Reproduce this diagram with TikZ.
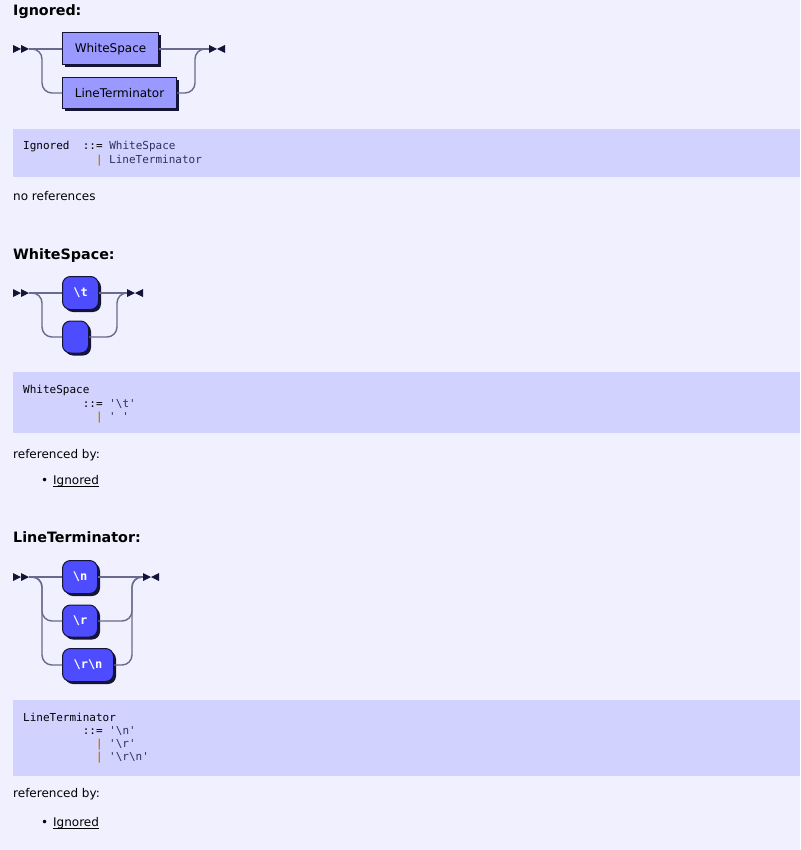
\documentclass[tikz,border=0pt]{standalone}
\usepackage{fontspec}
\setmainfont{DejaVu Sans}
\setmonofont{DejaVu Sans Mono}
\usetikzlibrary{shadows}
\definecolor{pagebg}{HTML}{F1F0FE}
\definecolor{codebg}{HTML}{D2D2FF}
\definecolor{ntfill}{HTML}{9999FF}
\definecolor{tfill}{HTML}{4D4DFF}
\definecolor{darkc}{HTML}{141438}
\definecolor{linec}{HTML}{6A6A8C}
\definecolor{barc}{HTML}{C07800}
\definecolor{refc}{HTML}{303060}
\tikzset{
  nonterm/.style={draw=darkc, line width=1pt, fill=ntfill, anchor=west, inner sep=0pt,
    font=\fontsize{12}{14}\selectfont, text=black,
    general shadow={fill=darkc, shadow xshift=2.5pt, shadow yshift=-2.5pt}},
  term/.style={draw=darkc, line width=1pt, fill=tfill, anchor=west, inner sep=0pt, rounded corners=8pt,
    font=\ttfamily\bfseries\fontsize{12}{14}\selectfont, text=white,
    general shadow={fill=darkc, shadow xshift=2.5pt, shadow yshift=-2.5pt, rounded corners=8pt}},
  conn/.style={draw=linec, line width=1.4pt},
  tip/.style={fill=darkc},
  heading/.style={anchor=base west, inner sep=0pt, font=\bfseries\fontsize{14.3}{16}\selectfont, text=black},
  body/.style={anchor=base west, inner sep=0pt, font=\fontsize{12}{14}\selectfont, text=black},
  code/.style={anchor=base west, inner sep=0pt, font=\ttfamily\fontsize{11}{13}\selectfont, text=black},
  codebox/.style={fill=codebg, draw=none},
}
\newcommand{\bsl}{\textbackslash}
\newcommand{\vb}{\textcolor{barc}{\textbf{|}}}
\newcommand{\rc}[1]{\textcolor{refc}{#1}}
\begin{document}
\begin{tikzpicture}[x=1pt,y=-1pt]
\useasboundingbox (0,0) rectangle (800,850);
\fill[pagebg] (0,0) rectangle (800,850);

% ===== Ignored =====
\node[heading] (h1) at (13,16) {Ignored:};
\coordinate (s1) at (29,49);
\fill[tip] (13,45) -- (21,49) -- (13,53) -- cycle;
\fill[tip] (21,45) -- (29,49) -- (21,53) -- cycle;
\node[nonterm, minimum width=96, minimum height=32] (ws) at (62,49) {WhiteSpace};
\node[nonterm, minimum width=114, minimum height=31] (lt) at (62,93) {LineTerminator};
\coordinate (e1) at (209,49);
\draw[conn] (s1) -- (ws.west);
\draw[conn, rounded corners=10pt] (s1) -| (42,93) -- (lt.west);
\draw[conn] (ws.east) -- (e1);
\draw[conn, rounded corners=10pt] (lt.east) -| (195,49) -- (e1);
\fill[tip] (209,45) -- (217,49) -- (209,53) -- cycle;
\fill[tip] (225,45) -- (217,49) -- (225,53) -- cycle;

\fill[codebox] (13,129) rectangle (800,177);
\node[code] (c11) at (23,150) {Ignored~~::=~\rc{WhiteSpace}};
\node[code] (c12) at (95.8,164) {\vb~\rc{LineTerminator}};
\node[body] (nr) at (13,201) {no references};

% ===== WhiteSpace =====
\node[heading] (h2) at (13,259) {WhiteSpace:};
\coordinate (s2) at (29,293);
\fill[tip] (13,289) -- (21,293) -- (13,297) -- cycle;
\fill[tip] (21,289) -- (29,293) -- (21,297) -- cycle;
\node[term, minimum width=36, minimum height=33] (tab) at (62,293) {\bsl t};
\node[term, minimum width=26, minimum height=32] (sp) at (62,337) {};
\coordinate (e2) at (127,293);
\draw[conn] (s2) -- (tab.west);
\draw[conn, rounded corners=10pt] (s2) -| (42,337) -- (sp.west);
\draw[conn] (tab.east) -- (e2);
\draw[conn, rounded corners=10pt] (sp.east) -| (117,293) -- (e2);
\fill[tip] (127,289) -- (135,293) -- (127,297) -- cycle;
\fill[tip] (143,289) -- (135,293) -- (143,297) -- cycle;

\fill[codebox] (13,372) rectangle (800,433);
\node[code] (c21) at (23,393) {WhiteSpace};
\node[code] (c22) at (82.6,407) {::=~\rc{'\bsl t'}};
\node[code] (c23) at (95.8,420) {\vb~\rc{'~'}};
\node[body] (rb1) at (13,458) {referenced by:};
\node[body] (bu1) at (41,484) {•};
\node[body] (ig1) at (53,484) {Ignored};
\draw[black, line width=0.8pt] ([yshift=-2pt]ig1.base west) -- ([yshift=-2pt]ig1.base east);

% ===== LineTerminator =====
\node[heading] (h3) at (13,542) {LineTerminator:};
\coordinate (s3) at (29,577);
\fill[tip] (13,573) -- (21,577) -- (13,581) -- cycle;
\fill[tip] (21,573) -- (29,577) -- (21,581) -- cycle;
\node[term, minimum width=35, minimum height=33] (nl) at (62,577) {\bsl n};
\node[term, minimum width=35, minimum height=32] (cr) at (62,621) {\bsl r};
\node[term, minimum width=51, minimum height=33] (crnl) at (62,665) {\bsl r\bsl n};
\coordinate (e3) at (143,577);
\draw[conn] (s3) -- (nl.west);
\draw[conn, rounded corners=10pt] (s3) -| (42,621) -- (cr.west);
\draw[conn, rounded corners=10pt] (s3) -| (42,665) -- (crnl.west);
\draw[conn] (nl.east) -- (e3);
\draw[conn, rounded corners=10pt] (cr.east) -| (132,577) -- (e3);
\draw[conn, rounded corners=10pt] (crnl.east) -| (132,577) -- (e3);
\fill[tip] (143,573) -- (151,577) -- (143,581) -- cycle;
\fill[tip] (159,573) -- (151,577) -- (159,581) -- cycle;

\fill[codebox] (13,700) rectangle (800,776);
\node[code] (c31) at (23,721) {LineTerminator};
\node[code] (c32) at (82.6,734) {::=~\rc{'\bsl n'}};
\node[code] (c33) at (95.8,747) {\vb~\rc{'\bsl r'}};
\node[code] (c34) at (95.8,760) {\vb~\rc{'\bsl r\bsl n'}};
\node[body] (rb2) at (13,797) {referenced by:};
\node[body] (bu2) at (41,826) {•};
\node[body] (ig2) at (53,826) {Ignored};
\draw[black, line width=0.8pt] ([yshift=-2pt]ig2.base west) -- ([yshift=-2pt]ig2.base east);
\end{tikzpicture}
\end{document}
